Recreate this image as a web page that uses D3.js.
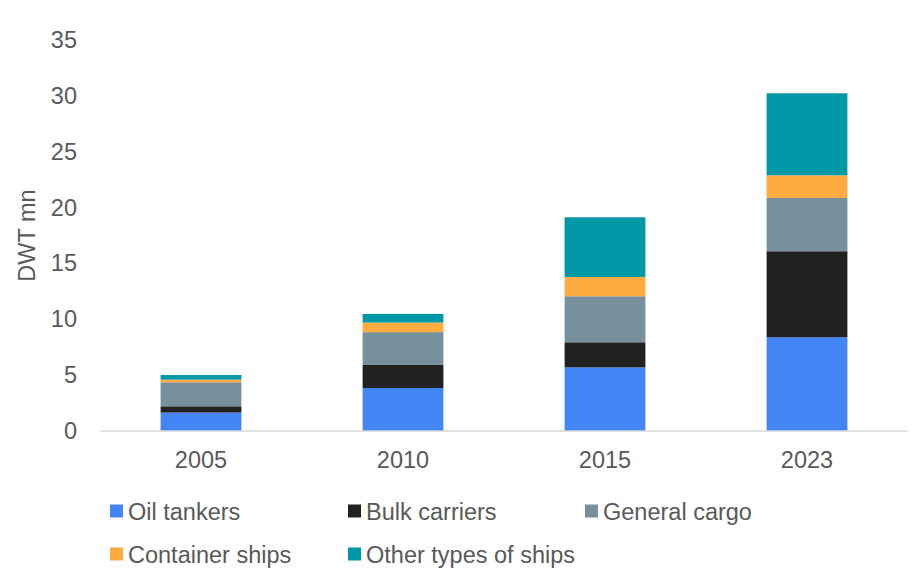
<!DOCTYPE html>
<html>
<head>
<meta charset="utf-8">
<script src="https://cdn.jsdelivr.net/npm/d3@7"></script>
<style>
  html, body { margin: 0; padding: 0; background: #fff; }
  svg text { font-family: "Liberation Sans", Arial, sans-serif; fill: #595959; }
</style>
</head>
<body>
<svg id="chart" width="923" height="570"></svg>
<script>
// Fleet capacity by ship type, DWT millions
const years = ["2005", "2010", "2015", "2023"];
const seriesNames = ["Oil tankers", "Bulk carriers", "General cargo", "Container ships", "Other types of ships"];
const oilTankers    = [1.65, 3.85, 5.70, 8.39];
const bulkCarriers  = [0.56, 2.06, 2.24, 7.70];
const generalCargo  = [2.15, 2.94, 4.12, 4.77];
const containerShips = [0.24, 0.86, 1.73, 2.03];
const otherShips    = [0.41, 0.77, 5.34, 7.34];
const yTicks = [0, 5, 10, 15, 20, 25, 30, 35];
const colors = ["#4285f4", "#212121", "#78909c", "#ffab40", "#0097a7"];

const seriesValues = [oilTankers, bulkCarriers, generalCargo, containerShips, otherShips];
const rows = years.map((yr, i) => {
  const r = { year: yr };
  seriesNames.forEach((s, k) => { r[s] = seriesValues[k][i]; });
  return r;
});

const svg = d3.select("#chart");
const plotLeft = 100, plotRight = 908, plotTop = 40, plotBottom = 431;
const fontSize = 23.5;

const x = d3.scaleBand().domain(years).range([plotLeft, plotRight]).paddingInner(0.6).paddingOuter(0.3);
const y = d3.scaleLinear().domain([0, 35]).range([plotBottom, plotTop]);

const stacked = d3.stack().keys(seriesNames)(rows);

// Y axis tick labels
const yAxis = svg.append("g")
  .attr("transform", `translate(${plotLeft},0)`)
  .call(d3.axisLeft(y).tickValues(yTicks).tickSize(0).tickPadding(23));
yAxis.select(".domain").remove();
yAxis.selectAll("text").attr("font-size", fontSize).style("font-family", "Liberation Sans, Arial, sans-serif").attr("fill", "#595959");

// Stacked bars
svg.append("g").selectAll("g")
  .data(stacked)
  .join("g")
  .attr("fill", (d, i) => colors[i])
  .selectAll("rect")
  .data(d => d)
  .join("rect")
  .attr("x", d => x(d.data.year))
  .attr("width", x.bandwidth())
  .attr("y", d => y(d[1]))
  .attr("height", d => y(d[0]) - y(d[1]));

// Baseline
svg.append("line")
  .attr("x1", plotLeft).attr("x2", plotRight)
  .attr("y1", y(0)).attr("y2", y(0))
  .attr("stroke", "#d9d9d9").attr("stroke-width", 1.5);

// X axis labels
const xAxis = svg.append("g")
  .attr("transform", `translate(0,${plotBottom})`)
  .call(d3.axisBottom(x).tickSize(0).tickPadding(20));
xAxis.select(".domain").remove();
xAxis.selectAll("text").attr("font-size", fontSize).style("font-family", "Liberation Sans, Arial, sans-serif").attr("fill", "#595959");

// Y axis title
svg.append("text")
  .attr("transform", `translate(35,${(plotTop + plotBottom) / 2}) rotate(-90)`)
  .attr("text-anchor", "middle")
  .attr("font-size", fontSize)
  .text("DWT mn");

// Legend
const legendPos = [[110, 511], [348, 511], [585, 511], [110, 554], [348, 554]];
const legend = svg.append("g").selectAll("g")
  .data(seriesNames)
  .join("g")
  .attr("transform", (d, i) => `translate(${legendPos[i][0]},${legendPos[i][1]})`);
legend.append("rect")
  .attr("x", 0).attr("y", -6.5).attr("width", 13).attr("height", 13)
  .attr("fill", (d, i) => colors[i]);
legend.append("text")
  .attr("x", 18).attr("y", 9)
  .attr("font-size", fontSize)
  .text(d => d);
</script>
</body>
</html>
